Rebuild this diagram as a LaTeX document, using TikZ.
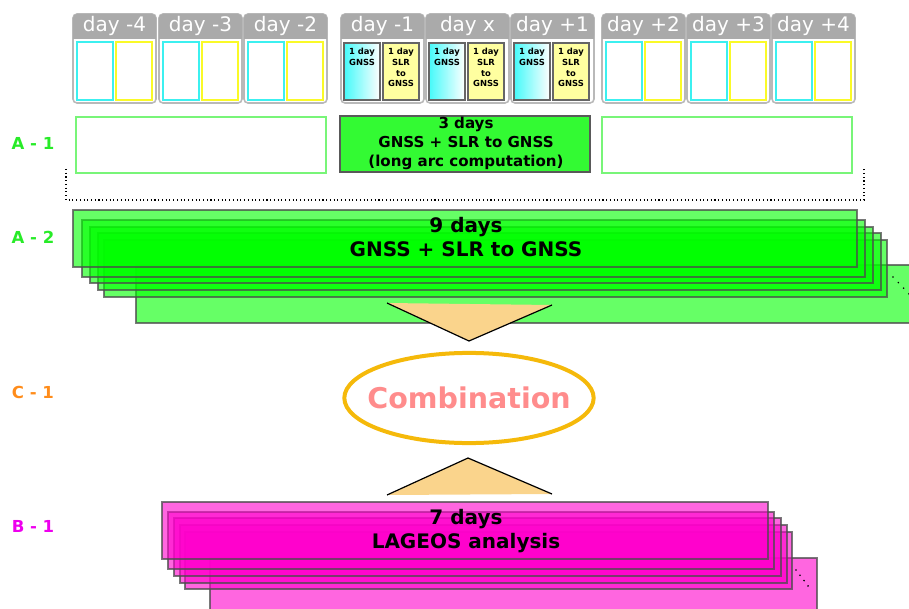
\documentclass[tikz,border=0pt]{standalone}
\usepackage{fontspec}
\setmainfont{DejaVu Sans}
\usetikzlibrary{shapes.geometric}
\definecolor{hdgray}{RGB}{170,170,170}
\definecolor{bdgray}{RGB}{185,185,185}
\definecolor{cellcyan}{RGB}{60,240,240}
\definecolor{cellyel}{RGB}{250,250,40}
\definecolor{fillyel}{RGB}{255,255,160}
\definecolor{gradcyan}{RGB}{70,250,250}
\definecolor{midgreen}{RGB}{51,250,51}
\definecolor{ltgreen}{RGB}{120,245,120}
\definecolor{stackgreen}{RGB}{0,255,0}
\definecolor{stackmag}{RGB}{255,0,204}
\definecolor{trifill}{RGB}{250,212,140}
\definecolor{amber}{RGB}{245,185,10}
\definecolor{salmon}{RGB}{255,140,140}
\definecolor{labgreen}{RGB}{40,235,40}
\definecolor{laborange}{RGB}{255,140,26}
\definecolor{labmag}{RGB}{238,0,238}
\tikzset{
  dayframe/.style={draw=bdgray, fill=white, line width=1.2pt, rounded corners=3pt},
  dayhead/.style={fill=hdgray},
  daylabel/.style={text=white, font=\fontsize{15}{15}\selectfont, inner sep=0pt},
  emptycyan/.style={draw=cellcyan, line width=1.8pt},
  emptyyel/.style={draw=cellyel, line width=1.8pt},
  fullcyan/.style={draw=black!60, line width=0.8pt, left color=gradcyan, right color=white},
  fullyel/.style={draw=black!60, line width=0.8pt, fill=fillyel},
  tinytext/.style={font=\fontsize{6.3}{8.2}\selectfont\bfseries, align=center, inner sep=0pt, anchor=north},
  sidebox/.style={draw=ltgreen, line width=2.2pt, fill=white},
  midbox/.style={draw=black!65, line width=1.1pt, fill=midgreen},
  gstack/.style={fill=stackgreen, fill opacity=0.6, draw=black!70, draw opacity=0.75, line width=1.1pt},
  mstack/.style={fill=stackmag, fill opacity=0.6, draw=black!70, draw opacity=0.75, line width=1.1pt},
  bigtext/.style={font=\bfseries\fontsize{15}{18}\selectfont, align=center, inner sep=0pt},
  midtext/.style={font=\bfseries\fontsize{11.3}{14.25}\selectfont, align=center, inner sep=0pt},
  tri/.style={fill=trifill},
  triedge/.style={draw=black, line width=0.9pt},
  rowlabel/.style={font=\bfseries\fontsize{12.4}{12.4}\selectfont, inner sep=0pt},
  dotpt/.style={fill=black}
}
\begin{document}
\begin{tikzpicture}[x=0.75pt,y=-0.75pt]
\useasboundingbox (0,0) rectangle (909,609);
\clip (0,0) rectangle (909,609);

% ---- day boxes ----
\foreach \L/\lab/\i/\full in {73/day -4/1/0, 159/day -3/2/0, 244/day -2/3/0, 341/day -1/4/1, 426/day x/5/1, 511/day +1/6/1, 602/day +2/7/0, 687/day +3/8/0, 772/day +4/9/0}{
  \draw[dayframe] (\L,14) rectangle ++(83,89);
  \fill[dayhead, rounded corners=3pt] (\L,14) rectangle ++(83,25);
  \fill[dayhead] (\L,30) rectangle ++(83,9);
  \node[daylabel] (day\i) at (\L+41.5,26) {\lab};
  \ifnum\full=0
    \draw[emptycyan] (\L+4,42) rectangle ++(36,58);
    \draw[emptyyel] (\L+43,42) rectangle ++(36,58);
  \else
    \draw[fullcyan] (\L+3,43) rectangle ++(36,57);
    \draw[fullyel] (\L+42,43) rectangle ++(36,57);
    \node[tinytext] (g\i) at (\L+21,47.5) {1 day\\GNSS};
    \node[tinytext] (s\i) at (\L+60,47.5) {1 day\\SLR\\to\\GNSS};
  \fi
}

% ---- A-1 row ----
\draw[sidebox] (76,117) rectangle (326,173);
\draw[midbox] (340,116) rectangle (590,172);
\draw[sidebox] (602,117) rectangle (852,173);
\node[midtext] (a1text) at (466,143) {3 days\\GNSS + SLR to GNSS\\(long arc computation)};

% dotted bracket
\draw[dotted, line width=0.8pt] (66,169) -- (66,200) -- (864,200) -- (864,168);

% ---- A-2 stack ----
\draw[gstack] (136,265) rectangle (940,323);
\draw[gstack] (104,240) rectangle (887,297);
\draw[gstack] (98,233) rectangle (881,290);
\draw[gstack] (90,227) rectangle (873,283);
\draw[gstack] (82,220) rectangle (865,277);
\draw[gstack] (73,210) rectangle (857,267);
\node[bigtext] (a2text) at (466,237) {9 days\\GNSS + SLR to GNSS};
\foreach \k in {0,1,2,3}{\fill[dotpt] (893+5.3*\k,277+5.6*\k) circle (0.9);}

% ---- triangles ----
\fill[tri] (387,303) -- (469,341) -- (552,305) -- cycle;
\draw[triedge] (387,303) -- (469,341) -- (552,305);
\fill[tri] (387,495) -- (468,458) -- (552,494) -- cycle;
\draw[triedge] (387,495) -- (468,458) -- (552,494);

% ---- combination ----
\node[inner sep=0pt, text=salmon, font=\bfseries\fontsize{21.4}{21.4}\selectfont] (comb) at (469,398) {Combination};
\draw[amber, line width=3pt] (comb.center) ellipse [x radius=93.5pt, y radius=33.8pt];

% ---- B-1 stack ----
\draw[mstack] (210,558) rectangle (817,630);
\draw[mstack] (185,532) rectangle (792,589);
\draw[mstack] (180,525) rectangle (787,583);
\draw[mstack] (174,518) rectangle (781,576);
\draw[mstack] (168,512) rectangle (774,569);
\draw[mstack] (162,502) rectangle (768,559);
\node[bigtext] (b1text) at (466,531) {7 days\\LAGEOS analysis};
\foreach \k in {0,1,2,3}{\fill[dotpt] (796+4*\k,570+5.3*\k) circle (0.9);}

% ---- row labels ----
\node[rowlabel, text=labgreen] (lA1) at (33,143) {A - 1};
\node[rowlabel, text=labgreen] (lA2) at (33,237) {A - 2};
\node[rowlabel, text=laborange] (lC1) at (33,392) {C - 1};
\node[rowlabel, text=labmag] (lB1) at (33,526) {B - 1};
\end{tikzpicture}
\end{document}
